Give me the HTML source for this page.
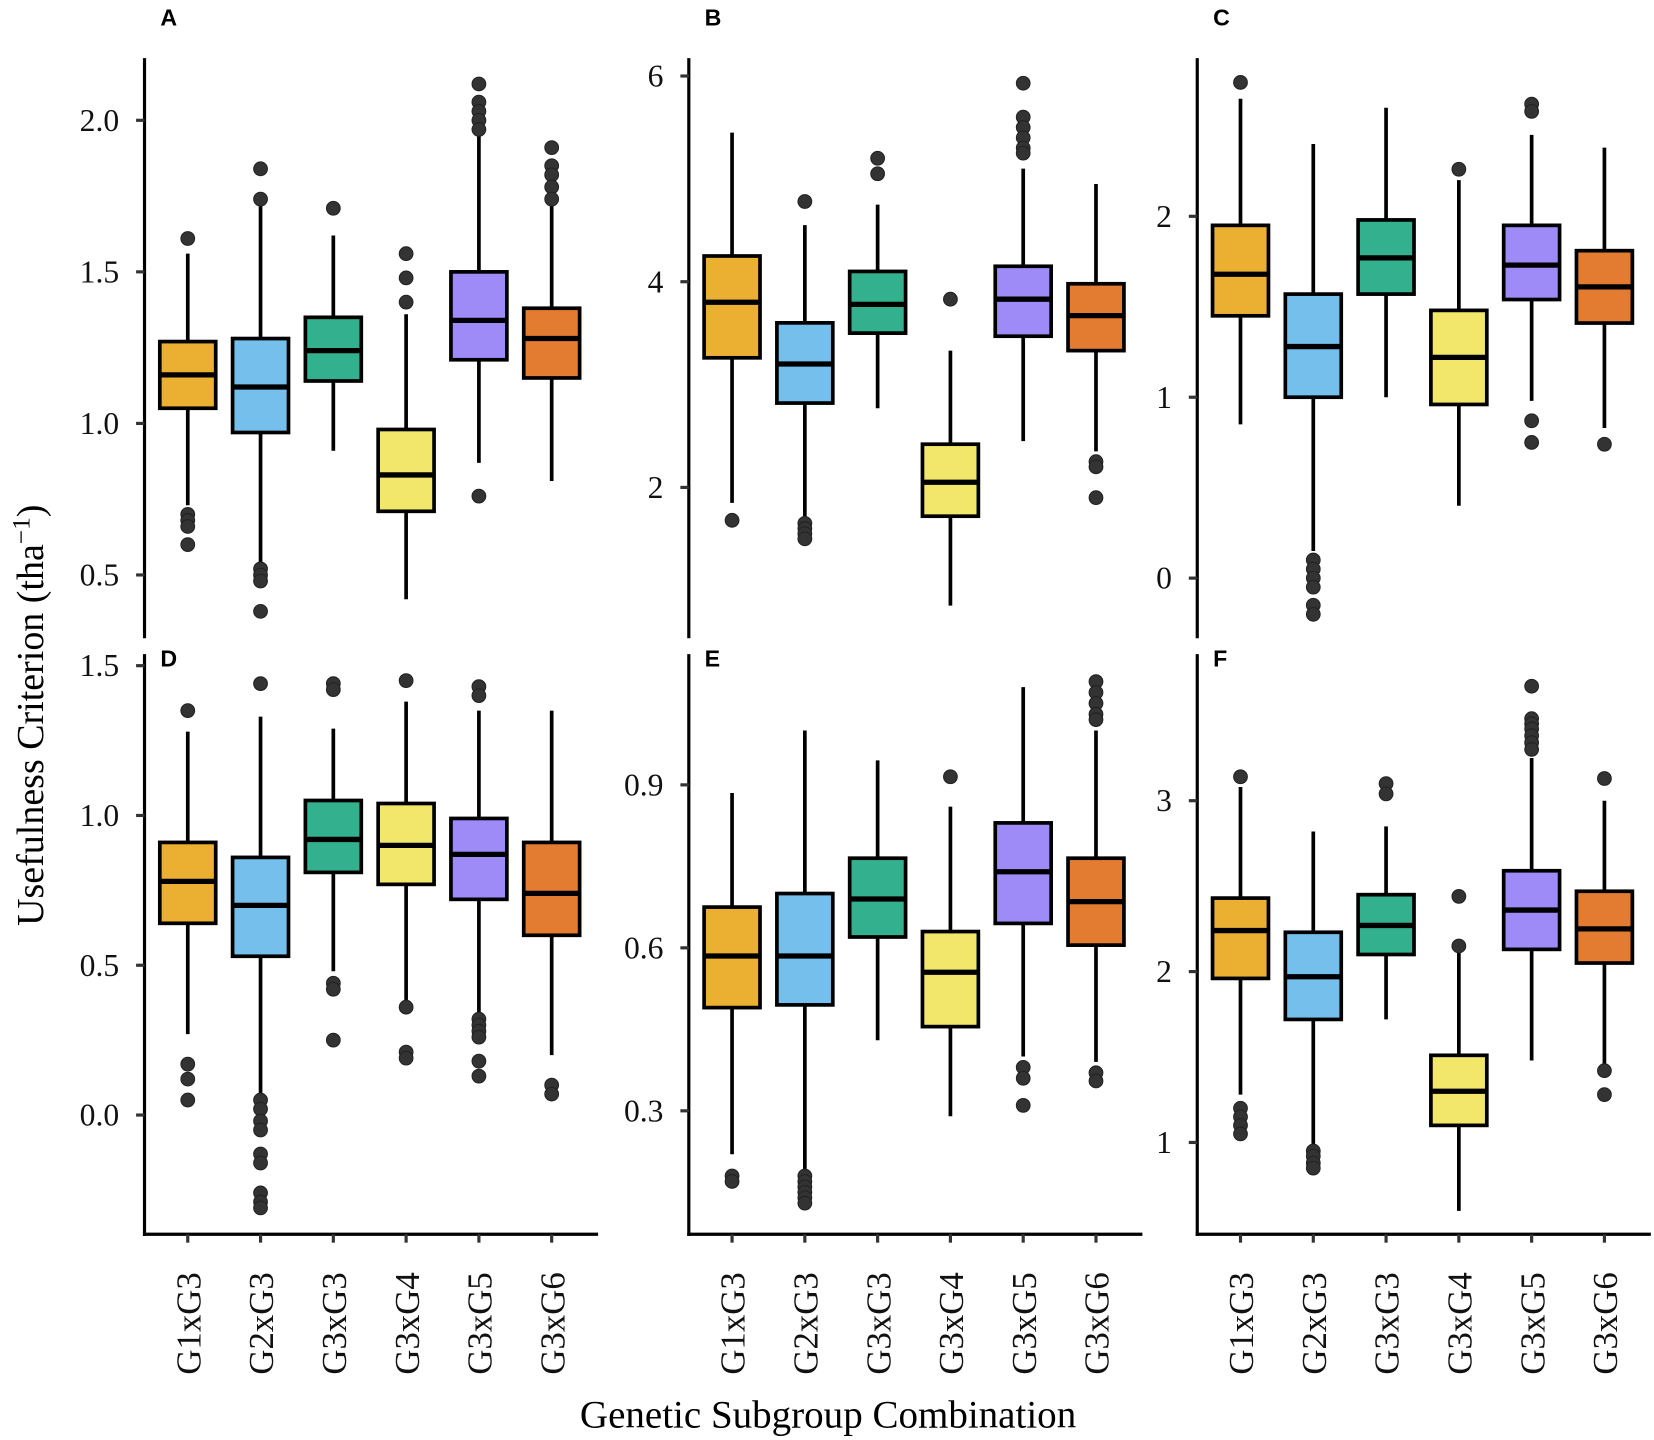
<!DOCTYPE html>
<html><head><meta charset="utf-8"><style>
html,body{margin:0;padding:0;background:#fff;}
svg{display:block;}
</style></head><body>
<svg id="chart" width="1654" height="1440" viewBox="0 0 1568 1365" xmlns="http://www.w3.org/2000/svg">
<text transform="translate(41,678) rotate(-90)" text-anchor="middle" font-family="Liberation Serif, serif" font-size="36">Usefulness Criterion (tha<tspan dy="-13" font-size="24">−1</tspan><tspan dy="13">)</tspan></text>
<text x="785" y="1353" text-anchor="middle" font-family="Liberation Serif, serif" font-size="37">Genetic Subgroup Combination</text>
</svg>
<script>
const categories = ["G1xG3","G2xG3","G3xG3","G3xG4","G3xG5","G3xG6"];
const colors = ["#EBB032","#75BFEC","#33B08E","#F2E76A","#9E8BF8","#E37B31"];

const A_low=[0.73,0.53,0.91,0.42,0.87,0.81], A_q1=[1.05,0.97,1.14,0.71,1.21,1.15], A_med=[1.16,1.12,1.24,0.83,1.34,1.28], A_q3=[1.27,1.28,1.35,0.98,1.50,1.38], A_high=[1.56,1.72,1.62,1.36,1.95,1.72];
const A_out=[[1.61,0.70,0.68,0.66,0.60],[1.84,1.74,0.52,0.50,0.48,0.38],[1.71],[1.56,1.48,1.40],[2.12,2.06,2.03,2.0,1.97,0.76],[1.91,1.85,1.82,1.78,1.74]];
const A_ticks=[0.5,1.0,1.5,2.0], A_tickLabels=["0.5","1.0","1.5","2.0"];

const B_low=[1.85,1.70,2.77,0.85,2.45,2.35], B_q1=[3.26,2.82,3.50,1.72,3.47,3.33], B_med=[3.80,3.20,3.78,2.05,3.83,3.67], B_q3=[4.25,3.60,4.10,2.42,4.15,3.98], B_high=[5.45,4.55,4.75,3.33,5.10,4.95];
const B_out=[[1.68],[4.78,1.65,1.60,1.55,1.50],[5.2,5.05],[3.83],[5.93,5.6,5.5,5.4,5.3,5.25],[2.25,2.2,1.9]];
const B_ticks=[2,4,6], B_tickLabels=["2","4","6"];

const C_low=[0.85,0.15,1.0,0.40,0.98,0.83], C_q1=[1.45,1.0,1.57,0.96,1.54,1.41], C_med=[1.68,1.28,1.77,1.22,1.73,1.61], C_q3=[1.95,1.57,1.98,1.48,1.95,1.81], C_high=[2.65,2.40,2.60,2.20,2.45,2.38];
const C_out=[[2.74],[0.1,0.05,0.0,-0.05,-0.15,-0.2],[],[2.26],[2.62,2.58,0.87,0.75],[0.74]];
const C_ticks=[0,1,2], C_tickLabels=["0","1","2"];

const D_low=[0.27,0.06,0.48,0.38,0.34,0.20], D_q1=[0.64,0.53,0.81,0.77,0.72,0.60], D_med=[0.78,0.70,0.92,0.90,0.87,0.74], D_q3=[0.91,0.86,1.05,1.04,0.99,0.91], D_high=[1.28,1.33,1.29,1.38,1.35,1.35];
const D_out=[[1.35,0.17,0.12,0.05],[1.44,0.05,0.02,-0.02,-0.05,-0.13,-0.16,-0.26,-0.29,-0.31],[1.44,1.42,0.44,0.42,0.25],[1.45,0.36,0.21,0.19],[1.43,1.40,0.32,0.30,0.28,0.26,0.18,0.13],[0.10,0.07]];
const D_ticks=[0.0,0.5,1.0,1.5], D_tickLabels=["0.0","0.5","1.0","1.5"];

const E_low=[0.22,0.19,0.43,0.29,0.40,0.39], E_q1=[0.49,0.495,0.62,0.455,0.645,0.605], E_med=[0.585,0.585,0.69,0.555,0.74,0.685], E_q3=[0.675,0.70,0.765,0.63,0.83,0.765], E_high=[0.885,1.0,0.945,0.86,1.08,1.0];
const E_out=[[0.18,0.17],[0.18,0.17,0.16,0.15,0.14,0.13],[],[0.915],[0.38,0.36,0.31],[1.09,1.07,1.05,1.03,1.02,0.37,0.355]];
const E_ticks=[0.3,0.6,0.9], E_tickLabels=["0.3","0.6","0.9"];

const F_low=[1.28,0.97,1.72,0.60,1.48,1.42], F_q1=[1.96,1.72,2.10,1.10,2.13,2.05], F_med=[2.24,1.97,2.27,1.30,2.36,2.25], F_q3=[2.43,2.23,2.45,1.51,2.59,2.47], F_high=[3.08,2.82,2.85,2.12,3.25,3.00];
const F_out=[[3.14,1.20,1.15,1.10,1.05],[0.95,0.92,0.88,0.85],[3.10,3.04],[2.44,2.15],[3.67,3.48,3.45,3.42,3.38,3.34,3.30],[3.13,1.42,1.28]];
const F_ticks=[1,2,3], F_tickLabels=["1","2","3"];

const NS="http://www.w3.org/2000/svg";
const svg=document.getElementById('chart');
function mk(tag,attrs,parent){const e=document.createElementNS(NS,tag);for(const k in attrs)e.setAttribute(k,attrs[k]);(parent||svg).appendChild(e);return e;}

const panels=[
 {id:"a",label:"A",labY:24,ax:137,top:55,bot:605,v1:2.0,y1:114,v2:0.5,y2:545,low:A_low,q1:A_q1,med:A_med,q3:A_q3,high:A_high,out:A_out,ticks:A_ticks,tl:A_tickLabels,xaxis:false},
 {id:"b",label:"B",labY:24,ax:653,top:55,bot:605,v1:6,y1:72,v2:2,y2:462,low:B_low,q1:B_q1,med:B_med,q3:B_q3,high:B_high,out:B_out,ticks:B_ticks,tl:B_tickLabels,xaxis:false},
 {id:"c",label:"C",labY:24,ax:1135,top:55,bot:605,v1:2,y1:205,v2:0,y2:548,low:C_low,q1:C_q1,med:C_med,q3:C_q3,high:C_high,out:C_out,ticks:C_ticks,tl:C_tickLabels,xaxis:false},
 {id:"d",label:"D",labY:632,ax:137,top:620,bot:1170,v1:1.5,y1:631,v2:0.0,y2:1057,low:D_low,q1:D_q1,med:D_med,q3:D_q3,high:D_high,out:D_out,ticks:D_ticks,tl:D_tickLabels,xaxis:true},
 {id:"e",label:"E",labY:632,ax:653,top:620,bot:1170,v1:0.9,y1:744,v2:0.3,y2:1053,low:E_low,q1:E_q1,med:E_med,q3:E_q3,high:E_high,out:E_out,ticks:E_ticks,tl:E_tickLabels,xaxis:true},
 {id:"f",label:"F",labY:632,ax:1135,top:620,bot:1170,v1:3,y1:759,v2:1,y2:1083,low:F_low,q1:F_q1,med:F_med,q3:F_q3,high:F_high,out:F_out,ticks:F_ticks,tl:F_tickLabels,xaxis:true}
];

panels.forEach(p=>{
  const g=mk('g',{});
  
  
  const y=v=>p.y2+(v-p.v2)*(p.y1-p.y2)/(p.v1-p.v2);
  const x=i=>p.ax+41+i*69;
  const lab=mk('text',{x:p.ax+15,y:p.labY,'font-family':'Liberation Sans, sans-serif','font-weight':'bold','font-size':'22'},g);
  lab.textContent=p.label;
  
  
  const yax=mk('line',{x1:p.ax,x2:p.ax,y1:p.top,y2:p.bot+(p.xaxis?1.5:0),stroke:'#000','stroke-width':3},g);
  
  
  if(p.xaxis){
    const xax=mk('line',{x1:p.ax-1.5,x2:p.ax+430,y1:p.bot,y2:p.bot,stroke:'#000','stroke-width':3},g);
    
    
  }
  p.ticks.forEach((t,i)=>{
    mk('line',{x1:p.ax-8,x2:p.ax,y1:y(t),y2:y(t),stroke:'#333','stroke-width':3},g);
    const tt=mk('text',{x:p.ax-24,y:y(t)+10,'text-anchor':'end','font-family':'Liberation Serif, serif','font-size':'30','fill':'#111'},g);
    tt.textContent=p.tl[i];
    
    
  });
  categories.forEach((c,i)=>{
    const cx=x(i);
    const bg=mk('g',{},g);
    
    
    mk('line',{x1:cx,x2:cx,y1:y(p.high[i]),y2:y(p.low[i]),stroke:'#000','stroke-width':3.5},bg);
    mk('rect',{x:cx-26.5,y:y(p.q3[i]),width:53,height:y(p.q1[i])-y(p.q3[i]),fill:colors[i],stroke:'#000','stroke-width':3.5},bg);
    mk('line',{x1:cx-26.5,x2:cx+26.5,y1:y(p.med[i]),y2:y(p.med[i]),stroke:'#000','stroke-width':5},bg);
    p.out[i].forEach(o=>{
      const d=mk('circle',{cx:cx,cy:y(o),r:6.5,fill:'#333',stroke:'#222','stroke-width':1},bg);
      
      
    });
    if(p.xaxis){
      mk('line',{x1:cx,x2:cx,y1:p.bot,y2:p.bot+8,stroke:'#333','stroke-width':3},g);
      const xt=mk('text',{transform:'translate('+(cx+12)+','+(p.bot+36)+') rotate(-90)','text-anchor':'end','font-family':'Liberation Serif, serif','font-size':'33','fill':'#111'},g);
      xt.textContent=c;
      
      
    }
  });
});
</script>
</body></html>
